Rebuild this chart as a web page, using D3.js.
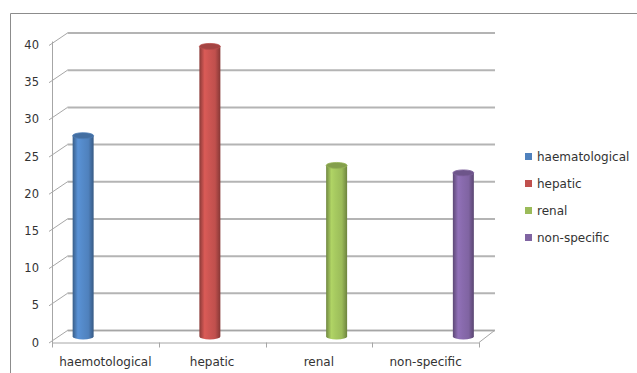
<!DOCTYPE html>
<html><head><meta charset="utf-8">
<script src="https://cdn.jsdelivr.net/npm/d3@7"></script>
<style>body{margin:0;background:#fff}svg{display:block}text{font-family:"DejaVu Sans",sans-serif;fill:#333}</style>
</head><body>
<script>
const categories = ["haemotological", "hepatic", "renal", "non-specific"];
const seriesNames = ["haematological", "hepatic", "renal", "non-specific"];
const seriesValues = [27, 39, 23, 22];
const seriesColors = ["#4F81BD", "#C0504D", "#9BBB59", "#8064A2"];
const yTicks = [0, 5, 10, 15, 20, 25, 30, 35, 40];

const W = 637, H = 373;
const svg = d3.select("body").append("svg").attr("width", W).attr("height", H);
const defs = svg.append("defs");

// outer chart border (cropped)
svg.append("path").attr("d", `M10.5,${H} V13.5 H${W}`).attr("fill", "none").attr("stroke", "#8c8c8c").attr("stroke-width", 1);

const x0 = 52, x1 = 479;
const DX = 15.5, DY = -12;
const y = d3.scaleLinear().domain([0, 40]).range([342.5, 45]);
const x = d3.scaleBand().domain(categories).range([x0, x1]).padding(0);
const xs = d3.scaleBand().domain(seriesNames).range([0, x.bandwidth()]).paddingInner(0).paddingOuter(0.67);

// back wall gridlines
const grid = svg.append("g");
yTicks.forEach(t => {
  grid.append("line").attr("x1", x0 + DX).attr("x2", x1 + DX + 0.5)
    .attr("y1", y(t) + DY).attr("y2", y(t) + DY)
    .attr("stroke", "#b4b4b4").attr("stroke-width", 2);
  grid.append("line").attr("x1", x0 - 3).attr("x2", x0 + DX)
    .attr("y1", y(t) + 0.5).attr("y2", y(t) + DY)
    .attr("stroke", "#a6a6a6").attr("stroke-width", 1);
});
// floor
svg.append("path")
  .attr("d", `M${x1},${y(0)} L${x1 + DX},${y(0) + DY}`)
  .attr("stroke", "#a6a6a6").attr("fill", "none");
svg.append("line").attr("x1", x0 + DX).attr("x2", x1 + DX).attr("y1", y(0) + DY).attr("y2", y(0) + DY)
  .attr("stroke", "#a6a6a6");

// y axis
const yAxis = svg.append("g");
yAxis.append("line").attr("x1", x0 + 0.5).attr("x2", x0 + 0.5).attr("y1", y(40) + 0.5 - 4).attr("y2", y(0) + 0.5)
  .attr("stroke", "#a6a6a6");
yTicks.forEach(t => {
  yAxis.append("text").attr("x", 39).attr("y", y(t) + 4).attr("text-anchor", "end")
    .attr("font-size", 11.5).text(t);
});

// x axis
svg.append("line").attr("x1", x0).attr("x2", x1).attr("y1", y(0) + 0.5).attr("y2", y(0) + 0.5).attr("stroke", "#a6a6a6");
const edges = categories.map(c => x(c)).concat([x1]);
edges.forEach(e => {
  svg.append("line").attr("x1", Math.round(e) + 0.5).attr("x2", Math.round(e) + 0.5)
    .attr("y1", y(0)).attr("y2", y(0) + 5).attr("stroke", "#a6a6a6");
});
categories.forEach(c => {
  svg.append("text").attr("x", x(c) + x.bandwidth() / 2).attr("y", 366)
    .attr("text-anchor", "middle").attr("font-size", 12).text(c);
});

// cylinders
const cyl = svg.append("g");
seriesNames.forEach((s, i) => {
  const col = d3.color(seriesColors[i]);
  const gid = "g" + i;
  const g = defs.append("linearGradient").attr("id", gid).attr("x1", 0).attr("x2", 1).attr("y1", 0).attr("y2", 0);
  [[0, col.darker(0.9)], [0.25, col.brighter(0.35)], [0.45, col.brighter(0.2)], [0.75, col], [1, col.darker(1.0)]]
    .forEach(([o, c]) => g.append("stop").attr("offset", o).attr("stop-color", c));
  const cat = categories[i];
  const w = xs.bandwidth() * 1.05;
  const cx = x(cat) + xs(s) + xs.bandwidth() / 2 + DX / 2;
  const yTop = y(seriesValues[i]) + DY / 2;
  const yBot = y(0) + DY / 2;
  const rx = w / 2, ry = 3;
  cyl.append("path")
    .attr("d", `M${cx - rx},${yTop} L${cx - rx},${yBot} A${rx},${ry} 0 0 0 ${cx + rx},${yBot} L${cx + rx},${yTop} Z`)
    .attr("fill", `url(#${gid})`);
  cyl.append("ellipse").attr("cx", cx).attr("cy", yTop).attr("rx", rx).attr("ry", ry)
    .attr("fill", col.darker(0.45)).attr("stroke", col.darker(0.1)).attr("stroke-width", 0.8);
});

// legend
const leg = svg.append("g");
seriesNames.forEach((s, i) => {
  const ly = 157 + i * 27;
  leg.append("rect").attr("x", 525).attr("y", ly - 4).attr("width", 7).attr("height", 7).attr("fill", seriesColors[i]);
  leg.append("text").attr("x", 537).attr("y", ly + 4).attr("font-size", 12).text(s);
});
</script>
</body></html>
